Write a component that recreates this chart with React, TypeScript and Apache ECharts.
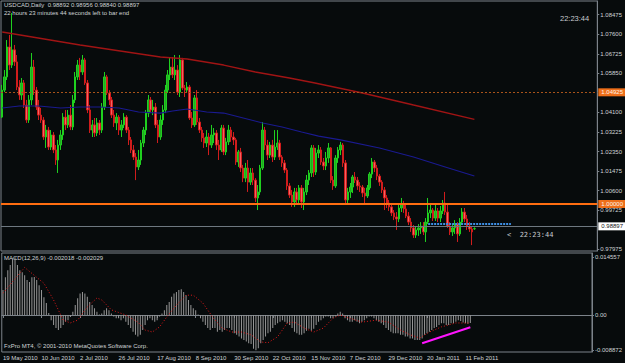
import React, { useEffect, useRef } from "react";
import * as echarts from "echarts";

const BG = "#070b0c";
const FONT = "Liberation Sans";

// [open, close, low, high]
const CANDLES: number[][] = [
  [1.0389, 1.0510, 1.0385, 1.0533], [1.0510, 1.0569, 1.0501, 1.0600], [1.0569, 1.0703, 1.0555, 1.0734], [1.0703, 1.0622, 1.0600, 1.0757],
  [1.0622, 1.0690, 1.0609, 1.0855], [1.0690, 1.0636, 1.0618, 1.0712], [1.0636, 1.0524, 1.0510, 1.0667], [1.0524, 1.0488, 1.0466, 1.0555],
  [1.0488, 1.0542, 1.0466, 1.0564], [1.0542, 1.0443, 1.0430, 1.0555], [1.0443, 1.0376, 1.0363, 1.0466], [1.0376, 1.0466, 1.0363, 1.0488],
  [1.0466, 1.0613, 1.0443, 1.0676], [1.0613, 1.0510, 1.0488, 1.0645], [1.0510, 1.0434, 1.0421, 1.0524], [1.0434, 1.0398, 1.0376, 1.0466],
  [1.0398, 1.0376, 1.0363, 1.0430], [1.0376, 1.0300, 1.0287, 1.0389], [1.0300, 1.0331, 1.0251, 1.0354], [1.0331, 1.0255, 1.0242, 1.0345],
  [1.0255, 1.0309, 1.0242, 1.0331], [1.0309, 1.0242, 1.0228, 1.0322], [1.0242, 1.0197, 1.0175, 1.0264], [1.0197, 1.0264, 1.0139, 1.0287],
  [1.0264, 1.0309, 1.0242, 1.0331], [1.0309, 1.0389, 1.0287, 1.0407], [1.0389, 1.0354, 1.0331, 1.0421], [1.0354, 1.0398, 1.0340, 1.0421],
  [1.0398, 1.0345, 1.0331, 1.0443], [1.0345, 1.0466, 1.0331, 1.0488], [1.0466, 1.0569, 1.0452, 1.0591], [1.0569, 1.0622, 1.0555, 1.0645],
  [1.0622, 1.0591, 1.0555, 1.0654], [1.0591, 1.0645, 1.0578, 1.0667], [1.0645, 1.0542, 1.0533, 1.0654], [1.0542, 1.0421, 1.0407, 1.0555],
  [1.0421, 1.0331, 1.0318, 1.0443], [1.0331, 1.0354, 1.0300, 1.0376], [1.0354, 1.0318, 1.0300, 1.0385], [1.0318, 1.0363, 1.0304, 1.0385],
  [1.0363, 1.0331, 1.0309, 1.0376], [1.0331, 1.0434, 1.0318, 1.0452], [1.0434, 1.0569, 1.0421, 1.0591], [1.0569, 1.0497, 1.0488, 1.0578],
  [1.0497, 1.0466, 1.0443, 1.0510], [1.0466, 1.0398, 1.0385, 1.0479], [1.0398, 1.0363, 1.0345, 1.0421], [1.0363, 1.0389, 1.0331, 1.0407],
  [1.0389, 1.0331, 1.0309, 1.0398], [1.0331, 1.0354, 1.0300, 1.0376], [1.0354, 1.0389, 1.0340, 1.0407], [1.0389, 1.0331, 1.0318, 1.0398],
  [1.0331, 1.0287, 1.0264, 1.0345], [1.0287, 1.0242, 1.0228, 1.0300], [1.0242, 1.0210, 1.0197, 1.0264], [1.0210, 1.0166, 1.0107, 1.0228],
  [1.0166, 1.0197, 1.0152, 1.0242], [1.0197, 1.0273, 1.0175, 1.0287], [1.0273, 1.0331, 1.0255, 1.0345], [1.0331, 1.0407, 1.0309, 1.0421],
  [1.0407, 1.0466, 1.0389, 1.0488], [1.0466, 1.0421, 1.0407, 1.0479], [1.0421, 1.0434, 1.0398, 1.0466], [1.0434, 1.0354, 1.0340, 1.0452],
  [1.0354, 1.0300, 1.0273, 1.0376], [1.0300, 1.0376, 1.0287, 1.0398], [1.0376, 1.0421, 1.0354, 1.0443], [1.0421, 1.0510, 1.0407, 1.0533],
  [1.0510, 1.0578, 1.0497, 1.0600], [1.0578, 1.0613, 1.0555, 1.0658], [1.0613, 1.0578, 1.0564, 1.0658], [1.0578, 1.0600, 1.0555, 1.0667],
  [1.0600, 1.0501, 1.0488, 1.0622], [1.0501, 1.0645, 1.0479, 1.0667], [1.0645, 1.0519, 1.0510, 1.0654], [1.0519, 1.0510, 1.0479, 1.0533],
  [1.0510, 1.0524, 1.0497, 1.0546], [1.0524, 1.0385, 1.0376, 1.0533], [1.0385, 1.0354, 1.0340, 1.0412], [1.0354, 1.0475, 1.0345, 1.0488],
  [1.0475, 1.0367, 1.0354, 1.0510], [1.0367, 1.0331, 1.0318, 1.0385], [1.0331, 1.0296, 1.0278, 1.0345], [1.0296, 1.0273, 1.0251, 1.0318],
  [1.0273, 1.0300, 1.0255, 1.0331], [1.0300, 1.0264, 1.0219, 1.0318], [1.0264, 1.0309, 1.0251, 1.0354], [1.0309, 1.0318, 1.0273, 1.0340],
  [1.0318, 1.0264, 1.0242, 1.0331], [1.0264, 1.0242, 1.0197, 1.0287], [1.0242, 1.0340, 1.0233, 1.0354], [1.0340, 1.0233, 1.0219, 1.0354],
  [1.0233, 1.0278, 1.0219, 1.0296], [1.0278, 1.0331, 1.0264, 1.0354], [1.0331, 1.0300, 1.0278, 1.0345], [1.0300, 1.0287, 1.0264, 1.0322],
  [1.0287, 1.0188, 1.0175, 1.0296], [1.0188, 1.0233, 1.0166, 1.0242], [1.0233, 1.0161, 1.0143, 1.0251], [1.0161, 1.0116, 1.0098, 1.0175],
  [1.0116, 1.0161, 1.0098, 1.0184], [1.0161, 1.0098, 1.0054, 1.0197], [1.0098, 1.0139, 1.0085, 1.0161], [1.0139, 1.0107, 1.0085, 1.0161],
  [1.0107, 1.0027, 1.0009, 1.0116], [1.0027, 1.0054, 0.9973, 1.0085], [1.0054, 1.0161, 1.0040, 1.0175], [1.0161, 1.0331, 1.0152, 1.0367],
  [1.0331, 1.0264, 1.0242, 1.0345], [1.0264, 1.0219, 1.0197, 1.0287], [1.0219, 1.0264, 1.0206, 1.0278], [1.0264, 1.0210, 1.0188, 1.0287],
  [1.0210, 1.0255, 1.0197, 1.0331], [1.0255, 1.0273, 1.0242, 1.0331], [1.0273, 1.0210, 1.0197, 1.0287], [1.0210, 1.0184, 1.0166, 1.0219],
  [1.0184, 1.0152, 1.0139, 1.0197], [1.0152, 1.0081, 1.0063, 1.0161], [1.0081, 1.0040, 1.0027, 1.0094], [1.0040, 1.0009, 0.9987, 1.0063],
  [1.0009, 1.0054, 0.9987, 1.0072], [1.0054, 1.0018, 0.9996, 1.0072], [1.0018, 1.0072, 0.9996, 1.0085], [1.0072, 1.0009, 0.9982, 1.0085],
  [1.0009, 1.0054, 0.9973, 1.0072], [1.0054, 1.0107, 1.0040, 1.0130], [1.0107, 1.0139, 1.0085, 1.0152], [1.0139, 1.0251, 1.0121, 1.0264],
  [1.0251, 1.0143, 1.0121, 1.0264], [1.0143, 1.0228, 1.0130, 1.0251], [1.0228, 1.0242, 1.0206, 1.0264], [1.0242, 1.0188, 1.0175, 1.0255],
  [1.0188, 1.0170, 1.0152, 1.0206], [1.0170, 1.0206, 1.0152, 1.0233], [1.0206, 1.0251, 1.0184, 1.0273], [1.0251, 1.0107, 1.0094, 1.0255],
  [1.0107, 1.0081, 1.0063, 1.0125], [1.0081, 1.0206, 1.0072, 1.0219], [1.0206, 1.0242, 1.0184, 1.0255], [1.0242, 1.0264, 1.0219, 1.0278],
  [1.0264, 1.0184, 1.0166, 1.0273], [1.0184, 1.0018, 1.0004, 1.0197], [1.0018, 1.0054, 1.0004, 1.0072], [1.0054, 1.0076, 1.0027, 1.0094],
  [1.0076, 1.0121, 1.0049, 1.0130], [1.0121, 1.0107, 1.0094, 1.0143], [1.0107, 1.0081, 1.0063, 1.0121], [1.0081, 1.0076, 1.0054, 1.0098],
  [1.0076, 1.0049, 1.0031, 1.0085], [1.0049, 1.0036, 1.0004, 1.0072], [1.0036, 1.0072, 1.0027, 1.0085], [1.0072, 1.0134, 1.0063, 1.0143],
  [1.0134, 1.0188, 1.0116, 1.0206], [1.0188, 1.0161, 1.0143, 1.0197], [1.0161, 1.0125, 1.0107, 1.0175], [1.0125, 1.0098, 1.0081, 1.0134],
  [1.0098, 1.0063, 1.0049, 1.0107], [1.0063, 1.0027, 0.9973, 1.0076], [1.0027, 1.0004, 0.9982, 1.0040], [1.0004, 0.9987, 0.9969, 1.0018],
  [0.9987, 0.9960, 0.9946, 1.0004], [0.9960, 0.9942, 0.9928, 0.9973], [0.9942, 0.9933, 0.9884, 0.9964], [0.9933, 0.9982, 0.9919, 0.9996],
  [0.9982, 1.0000, 0.9964, 1.0027], [1.0000, 0.9978, 0.9960, 1.0014], [0.9978, 0.9946, 0.9937, 0.9996], [0.9946, 0.9919, 0.9906, 0.9964],
  [0.9919, 0.9893, 0.9875, 0.9937], [0.9893, 0.9861, 0.9848, 0.9906], [0.9861, 0.9884, 0.9848, 0.9897], [0.9884, 0.9893, 0.9857, 0.9910],
  [0.9893, 0.9901, 0.9866, 0.9919], [0.9901, 0.9875, 0.9861, 0.9919], [0.9875, 0.9919, 0.9830, 0.9937], [0.9919, 0.9960, 0.9910, 1.0027],
  [0.9960, 0.9973, 0.9937, 0.9996], [0.9973, 0.9937, 0.9924, 0.9982], [0.9937, 0.9969, 0.9924, 0.9996], [0.9969, 0.9937, 0.9919, 0.9982],
  [0.9937, 0.9969, 0.9919, 0.9991], [0.9969, 1.0004, 0.9955, 1.0018], [1.0004, 0.9964, 0.9951, 1.0054], [0.9964, 0.9901, 0.9893, 0.9996],
  [0.9901, 0.9875, 0.9861, 0.9919], [0.9875, 0.9893, 0.9857, 0.9910], [0.9893, 0.9910, 0.9866, 0.9928], [0.9910, 0.9866, 0.9830, 0.9919],
  [0.9866, 0.9919, 0.9857, 0.9937], [0.9919, 0.9964, 0.9906, 0.9982], [0.9964, 0.9933, 0.9919, 0.9982], [0.9933, 0.9901, 0.9884, 0.9951],
  [0.9901, 0.9888, 0.9875, 0.9919], [0.9888, 0.9875, 0.9816, 0.9901], [0.98892, 0.98897, 0.9884, 0.98956],
];

// MACD(12,26,9) main line drawn as histogram
const MACD_HIST: number[] = [
  0.0063, 0.0095, 0.0113, 0.0126, 0.0143, 0.01456, 0.0126, 0.0113, 0.0108, 0.0100,
  0.0088, 0.0083, 0.0095, 0.0096, 0.0088, 0.0075, 0.0063, 0.0045, 0.0030, 0.0005,
  -0.0013, -0.0025, -0.0033, -0.0038, -0.0033, -0.0025, -0.0017, -0.0013, -0.0005, 0.0008,
  0.0025, 0.0042, 0.0054, 0.0058, 0.0054, 0.0046, 0.0033, 0.0025, 0.0017, 0.0008,
  0.0001, 0.0004, 0.0012, 0.0017, 0.0012, 0.0004, -0.0004, -0.0008, -0.0008, -0.0013,
  -0.0008, -0.0017, -0.0025, -0.0033, -0.0042, -0.0050, -0.0054, -0.0050, -0.0038, -0.0025,
  -0.0013, -0.0008, -0.0013, -0.0017, -0.0013, -0.0004, 0.0004, 0.0012, 0.0025, 0.0033,
  0.0046, 0.0054, 0.0058, 0.0063, 0.0065, 0.0058, 0.0050, 0.0038, 0.0025, 0.0017,
  0.0012, 0.0001, -0.0008, -0.0017, -0.0025, -0.0033, -0.0038, -0.0033, -0.0033, -0.0042,
  -0.0038, -0.0042, -0.0038, -0.0033, -0.0033, -0.0038, -0.0046, -0.0050, -0.0054, -0.0059,
  -0.0063, -0.0067, -0.0071, -0.0073, -0.0085, -0.00887, -0.0084, -0.0071, -0.0063, -0.0054,
  -0.0046, -0.0042, -0.0033, -0.0025, -0.0021, -0.0017, -0.0013, -0.0017, -0.0021, -0.0025,
  -0.0033, -0.0042, -0.0046, -0.0050, -0.0050, -0.0046, -0.0040, -0.0035, -0.0040, -0.0035,
  -0.0025, -0.0017, -0.0013, -0.0008, -0.0004, -0.0004, -0.0008, -0.0008, -0.0004, 0.0004,
  0.0008, 0.0004, -0.0008, -0.0013, -0.0017, -0.0017, -0.0013, -0.0017, -0.0021, -0.0017,
  -0.0013, -0.0008, -0.0004, -0.0004, -0.0008, -0.0013, -0.0017, -0.0021, -0.0025, -0.0033,
  -0.0038, -0.0042, -0.0046, -0.0046, -0.0046, -0.0050, -0.0050, -0.0054, -0.0054, -0.0059,
  -0.0059, -0.0063, -0.0063, -0.0063, -0.0059, -0.0050, -0.0046, -0.0042, -0.0038, -0.0033,
  -0.0030, -0.0025, -0.0021, -0.0021, -0.0025, -0.0025, -0.0021, -0.0021, -0.0017, -0.0013,
  -0.0015, -0.0019, -0.0021, -0.0022, -0.002018,
];

// signal line, read at points [bar index, value]
const MACD_SIGNAL: number[][] = [
  [0, 0.0055], [9, 0.012], [17, 0.008], [21, 0.0038], [25, -0.0013], [28, -0.002], [31, -0.0013],
  [35, 0.002], [39, 0.0043], [41, 0.0038], [45, 0.0013], [51, 0.0], [56, -0.0018], [59, -0.0038],
  [62, -0.0043], [65, -0.003], [68, -0.0005], [72, 0.0025], [76, 0.005], [79, 0.005], [83, 0.003],
  [87, -0.0005], [91, -0.0033], [95, -0.0043], [99, -0.0043], [103, -0.005], [107, -0.0068],
  [110, -0.007], [114, -0.0055], [118, -0.002], [121, -0.0018], [125, -0.0033], [129, -0.0043],
  [133, -0.0033], [137, -0.0008], [140, 0.0], [144, -0.0008], [149, -0.0018], [155, -0.0013],
  [160, -0.0018], [165, -0.0038], [169, -0.005], [173, -0.0058], [177, -0.0043], [182, -0.003],
  [188, -0.002], [194, -0.002029],
];

// moving averages, read at points [bar index, price]
const RED_MA: number[][] = [
  [0, 1.077], [32, 1.0712], [65, 1.0658], [76, 1.0649], [91, 1.0622], [104, 1.0591],
  [118, 1.0564], [128, 1.0543], [148, 1.0497], [169, 1.0443], [194, 1.0379],
];
const BLUE_MA: number[][] = [
  [0, 1.043], [7, 1.0439], [15, 1.0439], [24, 1.043], [32, 1.0434], [40, 1.0434], [48, 1.043],
  [56, 1.0412], [65, 1.0407], [70, 1.0416], [76, 1.0425], [84, 1.0412], [91, 1.0407],
  [99, 1.0385], [107, 1.0363], [115, 1.0345], [123, 1.0322], [130, 1.0304], [139, 1.0287],
  [155, 1.0251], [169, 1.021], [182, 1.0166], [194, 1.0125],
];

const DATE_LABELS = [
  "19 May 2010", "10 Jun 2010", "2 Jul 2010", "26 Jul 2010", "17 Aug 2010", "8 Sep 2010",
  "30 Sep 2010", "22 Oct 2010", "15 Nov 2010", "7 Dec 2010", "29 Dec 2010", "20 Jan 2011", "11 Feb 2011",
];
const LABEL_STEP = 16;
const PRICE_TICKS = [1.08475, 1.076, 1.06725, 1.0585, 1.041, 1.03225, 1.0235, 1.01475, 1.006, 0.99725, 0.97975];
const MACD_TICKS = [0.014557, 0, -0.008872];

const LEVEL_RESIST = 1.04925;
const LEVEL_PARITY = 1.0;
const LEVEL_BID = 0.98897;
const LEVEL_BLUE = 0.9912;
const BLUE_SEG = [175, 209];
const DIVERGENCE: number[][] = [[174, -0.00714], [194, -0.0031]];

const SLOT_COUNT = 245;
const CATEGORIES = Array.from({ length: SLOT_COUNT }, (_, i) => String(i));

const GRAY = "#7c838a";
const TXT = "#cfd3d6";

export default function App() {
  const ref = useRef<HTMLDivElement>(null);
  useEffect(() => {
    document.body.style.margin = "0";
    document.body.style.background = BG;
    const chart = echarts.init(ref.current!, null, { renderer: "svg" });
    const showLabel = (idx: number) => idx % LABEL_STEP === 0 && idx / LABEL_STEP < DATE_LABELS.length;
    const boxLabel = (text: string, bg: string, fg: string) => ({
      show: true,
      position: "end",
      distance: 1,
      formatter: text,
      backgroundColor: bg,
      color: fg,
      fontSize: 6,
      fontFamily: FONT,
      padding: [1, 3, 1, 3],
    });
    const option: any = {
      animation: false,
      backgroundColor: BG,
      textStyle: { fontFamily: FONT },
      grid: [
        { left: 1, top: 1, width: 601, height: 250, show: true, borderColor: GRAY, borderWidth: 1 },
        { left: 1, top: 253, width: 601, height: 99, show: true, borderColor: GRAY, borderWidth: 1 },
      ],
      xAxis: [
        {
          type: "category", gridIndex: 0, data: CATEGORIES, boundaryGap: true,
          axisLine: { show: false }, axisTick: { show: false }, axisLabel: { show: false }, splitLine: { show: false },
        },
        {
          type: "category", gridIndex: 1, data: CATEGORIES, boundaryGap: true,
          axisLine: { show: true, lineStyle: { color: GRAY } },
          axisTick: { show: true, alignWithLabel: true, interval: (i: number) => showLabel(i), length: 3, lineStyle: { color: GRAY } },
          axisLabel: {
            show: true, interval: (i: number) => showLabel(i), align: "left", margin: 3,
            formatter: (_v: string, i: number) => DATE_LABELS[Math.round(i / LABEL_STEP)] || "",
            color: TXT, fontSize: 6, fontFamily: FONT,
          },
          splitLine: { show: false },
        },
      ],
      yAxis: [
        {
          type: "value", gridIndex: 0, position: "right", min: 0.97896, max: 1.09088,
          axisLine: { show: true, lineStyle: { color: GRAY } },
          axisTick: { show: true, length: 2, customValues: PRICE_TICKS, lineStyle: { color: GRAY } },
          axisLabel: { show: true, customValues: PRICE_TICKS, formatter: (v: number) => v.toFixed(5), color: TXT, fontSize: 6, fontFamily: FONT, margin: 3 },
          splitLine: { show: false },
        },
        {
          type: "value", gridIndex: 1, position: "right", min: -0.009335, max: 0.015643,
          axisLine: { show: true, lineStyle: { color: GRAY } },
          axisTick: { show: true, length: 2, customValues: MACD_TICKS, lineStyle: { color: GRAY } },
          axisLabel: {
            show: true, customValues: MACD_TICKS, formatter: (v: number) => (v === 0 ? "0.00" : v.toFixed(6)),
            color: TXT, fontSize: 6, fontFamily: FONT, margin: 3,
          },
          splitLine: { show: false },
        },
      ],
      series: [
        {
          type: "candlestick", xAxisIndex: 0, yAxisIndex: 0, data: CANDLES, barWidth: 2,
          itemStyle: { color: "#22a822", color0: "#f56262", borderColor: "#1fd01f", borderColor0: "#d01c1c", borderWidth: 1 },
          markLine: {
            silent: true, symbol: ["none", "none"],
            data: [
              { yAxis: LEVEL_RESIST, lineStyle: { color: "#a9531a", width: 1, type: [2, 2] }, label: boxLabel("1.04925", "#ee6f1a", "#fff4e8") },
              { yAxis: LEVEL_PARITY, lineStyle: { color: "#ff6d10", width: 2, type: "solid" }, label: boxLabel("1.00000", "#ee6f1a", "#fff4e8") },
              { yAxis: LEVEL_BID, lineStyle: { color: "#6e7880", width: 1, type: "solid" }, label: boxLabel("0.98897", "#ffffff", "#101010") },
              [
                { coord: [BLUE_SEG[0], LEVEL_BLUE], lineStyle: { color: "#3d8fe6", width: 2, type: [2, 1] }, label: { show: false } },
                { coord: [BLUE_SEG[1], LEVEL_BLUE] },
              ],
            ],
          },
        },
        {
          type: "line", xAxisIndex: 0, yAxisIndex: 0, data: RED_MA, symbol: "none",
          lineStyle: { color: "#a01414", width: 1.4 }, z: 3,
        },
        {
          type: "line", xAxisIndex: 0, yAxisIndex: 0, data: BLUE_MA, symbol: "none",
          lineStyle: { color: "#1a1a90", width: 1.1 }, z: 3,
        },
        {
          type: "bar", xAxisIndex: 1, yAxisIndex: 1, data: MACD_HIST, barWidth: 1,
          itemStyle: { color: "#979797" },
          markLine: {
            silent: true, symbol: ["none", "none"],
            data: [[
              { coord: DIVERGENCE[0], lineStyle: { color: "#ff14ff", width: 2, type: "solid" }, label: { show: false } },
              { coord: DIVERGENCE[1] },
            ]],
          },
        },
        {
          type: "line", xAxisIndex: 1, yAxisIndex: 1, data: MACD_SIGNAL, symbol: "none",
          lineStyle: { color: "#e01a1a", width: 1, type: [1, 2] }, z: 4,
        },
      ],
      graphic: [
        { type: "text", left: 4, top: 2, style: { text: "USDCAD,Daily  0.98892 0.98956 0.98840 0.98897", fill: TXT, font: `6px '${FONT}'` } },
        { type: "text", left: 4, top: 10, style: { text: "22 hours 23 minutes 44 seconds left to bar end", fill: TXT, font: `6px '${FONT}'` } },
        { type: "text", left: 560, top: 14, style: { text: "22:23:44", fill: "#c8ccd0", font: `7.5px '${FONT}'` } },
        { type: "text", left: 507, top: 231, style: { text: "<  22:23:44", fill: "#c8ccd0", font: "7px 'DejaVu Sans Mono'" } },
        { type: "text", left: 4, top: 255, style: { text: "MACD(12,26,9) -0.002018 -0.002029", fill: TXT, font: `6px '${FONT}'` } },
        { type: "text", left: 4, top: 343, style: { text: "FxPro MT4, \u00a9 2001-2010 MetaQuotes Software Corp.", fill: TXT, font: `6px '${FONT}'` } },
      ],
    };
    chart.setOption(option);
    return () => chart.dispose();
  }, []);
  return (
    <div style={{ position: "absolute", left: 0, top: 0, width: 625, height: 363, background: BG }}>
      <div ref={ref} style={{ width: 625, height: 363 }} />
    </div>
  );
}
